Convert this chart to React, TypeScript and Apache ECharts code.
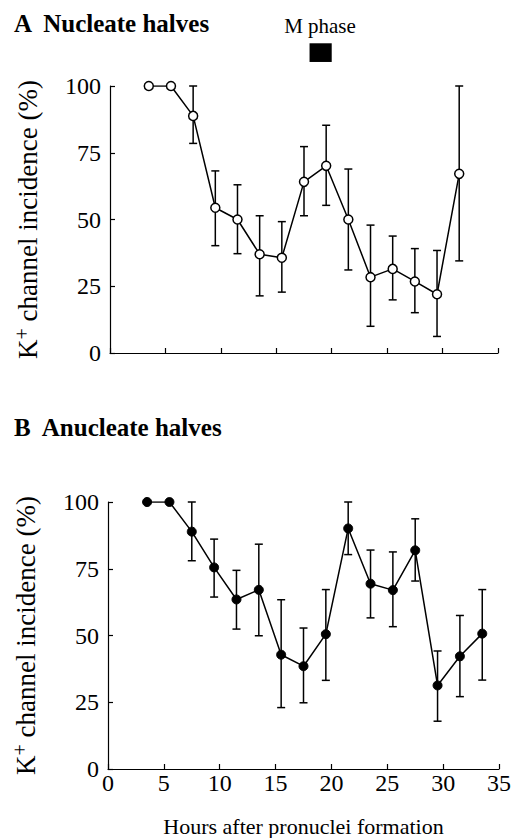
import React, { useEffect, useRef } from "react";
import * as echarts from "echarts";

// Panel A: nucleate halves
const hoursA = [3.5, 5.5, 7.5, 9.5, 11.5, 13.5, 15.5, 17.5, 19.5, 21.5, 23.5, 25.5, 27.5, 29.5, 31.5];
const meanA = [100, 100, 88.8, 54.4, 50, 37, 35.7, 64.1, 70.1, 50, 28.4, 31.5, 26.8, 22, 67.1];
const lowA = [null, null, 78.5, 40.2, 37.2, 21.4, 22.8, 51.4, 55.3, 31.1, 10, 19.9, 15.1, 6.2, 34.5];
const highA = [null, null, 100, 68.2, 63, 51.4, 49.2, 77.3, 85.3, 68.9, 47.9, 43.8, 39.1, 38.4, 100];

// Panel B: anucleate halves
const hoursB = [3.5, 5.5, 7.5, 9.5, 11.5, 13.5, 15.5, 17.5, 19.5, 21.5, 23.5, 25.5, 27.5, 29.5, 31.5, 33.5];
const meanB = [100, 100, 88.9, 75.5, 63.5, 67.1, 42.8, 38.5, 50.5, 90.1, 69.4, 67, 81.9, 31.3, 42.2, 50.7];
const lowB = [null, null, 78, 64.4, 52.4, 49.9, 23, 24.8, 33.2, 80.3, 56.6, 53.3, 70.4, 17.9, 27.1, 33.3];
const highB = [null, null, 100, 86.1, 74.4, 84.2, 63.4, 52.8, 67.2, 100, 82, 81.3, 93.7, 44.2, 57.5, 67.2];

// M phase bar (hours start, end) and its vertical placement above the plot (in y units)
const mPhase = [18, 20];
const mPhaseY = [109, 116];

const xMin = 0;
const xMax = 35;
const xStep = 5;
const yMin = 0;
const yMax = 100;
const yStep = 25;

const FONT = "'Liberation Serif', 'Times New Roman', serif";

function errData(h: number[], lo: (number | null)[], hi: (number | null)[]) {
  const out: number[][] = [];
  h.forEach((x, i) => {
    if (lo[i] != null && hi[i] != null) out.push([x, lo[i] as number, hi[i] as number]);
  });
  return out;
}

const errRender = (params: any, api: any) => {
  const x = api.value(0);
  const lo = api.value(1);
  const hi = api.value(2);
  const p1 = api.coord([x, hi]);
  const p2 = api.coord([x, lo]);
  const w = 4;
  const st = { stroke: "#000", lineWidth: 1.5 };
  return {
    type: "group",
    children: [
      { type: "line", shape: { x1: p1[0], y1: p1[1], x2: p2[0], y2: p2[1] }, style: st },
      { type: "line", shape: { x1: p1[0] - w, y1: p1[1], x2: p1[0] + w, y2: p1[1] }, style: st },
      { type: "line", shape: { x1: p2[0] - w, y1: p2[1], x2: p2[0] + w, y2: p2[1] }, style: st },
    ],
  };
};

export default function App() {
  const ref = useRef<HTMLDivElement>(null);
  useEffect(() => {
    document.body.style.margin = "0";
    const chart = echarts.init(ref.current!, null, { renderer: "svg" });
    const axisLine = { show: true, lineStyle: { color: "#000", width: 1.2 } };
    const axisTick = { show: true, inside: true, length: 5, lineStyle: { color: "#000", width: 1.2 } };
    const yName = "{n|K}{s|+}{n| channel incidence (%)}";
    const yNameStyle = {
      rich: {
        n: { fontFamily: FONT, fontSize: 27, color: "#000" },
        s: { fontFamily: FONT, fontSize: 20, color: "#000", padding: [0, 0, 12, 0] },
      },
    };
    const mkX = (gi: number, labels: boolean) => ({
      type: "value",
      gridIndex: gi,
      min: xMin,
      max: xMax,
      interval: xStep,
      axisLine,
      axisTick,
      splitLine: { show: false },
      axisLabel: { show: labels, fontFamily: FONT, fontSize: 24, color: "#000", margin: 2 },
      name: labels ? "Hours after pronuclei formation" : "",
      nameLocation: "middle",
      nameGap: 46,
      nameTextStyle: { fontFamily: FONT, fontSize: 22, color: "#000" },
    });
    const mkY = (gi: number) => ({
      type: "value",
      gridIndex: gi,
      min: yMin,
      max: yMax,
      interval: yStep,
      axisLine,
      axisTick,
      splitLine: { show: false },
      axisLabel: { fontFamily: FONT, fontSize: 24, color: "#000", margin: 9 },
      name: yName,
      nameLocation: "middle",
      nameGap: 66,
      nameTextStyle: yNameStyle,
    });
    const lineSeries = (gi: number, h: number[], m: number[], open: boolean) => ({
      type: "line",
      xAxisIndex: gi,
      yAxisIndex: gi,
      data: h.map((x, i) => [x, m[i]]),
      symbol: "circle",
      symbolSize: 9,
      lineStyle: { color: "#000", width: 1.5 },
      itemStyle: open
        ? { color: "#fff", borderColor: "#000", borderWidth: 1.5 }
        : { color: "#000", borderColor: "#000", borderWidth: 1 },
      z: 3,
    });
    const errSeries = (gi: number, data: number[][]) => ({
      type: "custom",
      xAxisIndex: gi,
      yAxisIndex: gi,
      data,
      encode: { x: 0, y: [1, 2] },
      renderItem: errRender,
      z: 2,
    });
    chart.setOption({
      animation: false,
      backgroundColor: "#fff",
      textStyle: { fontFamily: FONT },
      grid: [
        { left: 110, right: 17, top: 86, height: 267 },
        { left: 108, right: 16, top: 502, height: 269 },
      ],
      xAxis: [mkX(0, false), mkX(1, true)],
      yAxis: [mkY(0), mkY(1)],
      graphic: [
        {
          type: "text",
          left: 14,
          top: 11,
          style: { text: "A  Nucleate halves", fontFamily: FONT, fontWeight: "bold", fontSize: 25, fill: "#000" },
        },
        {
          type: "text",
          left: 14,
          top: 415,
          style: { text: "B  Anucleate halves", fontFamily: FONT, fontWeight: "bold", fontSize: 25, fill: "#000" },
        },
        {
          type: "text",
          x: 320,
          y: 15,
          style: { text: "M phase", fontFamily: FONT, fontSize: 21, fill: "#000", align: "center" },
        },
      ],
      series: [
        errSeries(0, errData(hoursA, lowA, highA)),
        lineSeries(0, hoursA, meanA, true),
        {
          type: "custom",
          xAxisIndex: 0,
          yAxisIndex: 0,
          clip: false,
          data: [[mPhase[0], mPhase[1], mPhaseY[0], mPhaseY[1]]],
          encode: { x: [0, 1], y: [2, 3] },
          renderItem: (params: any, api: any) => {
            const a = api.coord([api.value(0), api.value(3)]);
            const b = api.coord([api.value(1), api.value(2)]);
            return {
              type: "rect",
              shape: { x: a[0], y: a[1], width: b[0] - a[0], height: b[1] - a[1] },
              style: { fill: "#000" },
            };
          },
        },
        errSeries(1, errData(hoursB, lowB, highB)),
        lineSeries(1, hoursB, meanB, false),
      ],
    });
    return () => chart.dispose();
  }, []);
  return <div ref={ref} style={{ width: 515, height: 838 }} />;
}
